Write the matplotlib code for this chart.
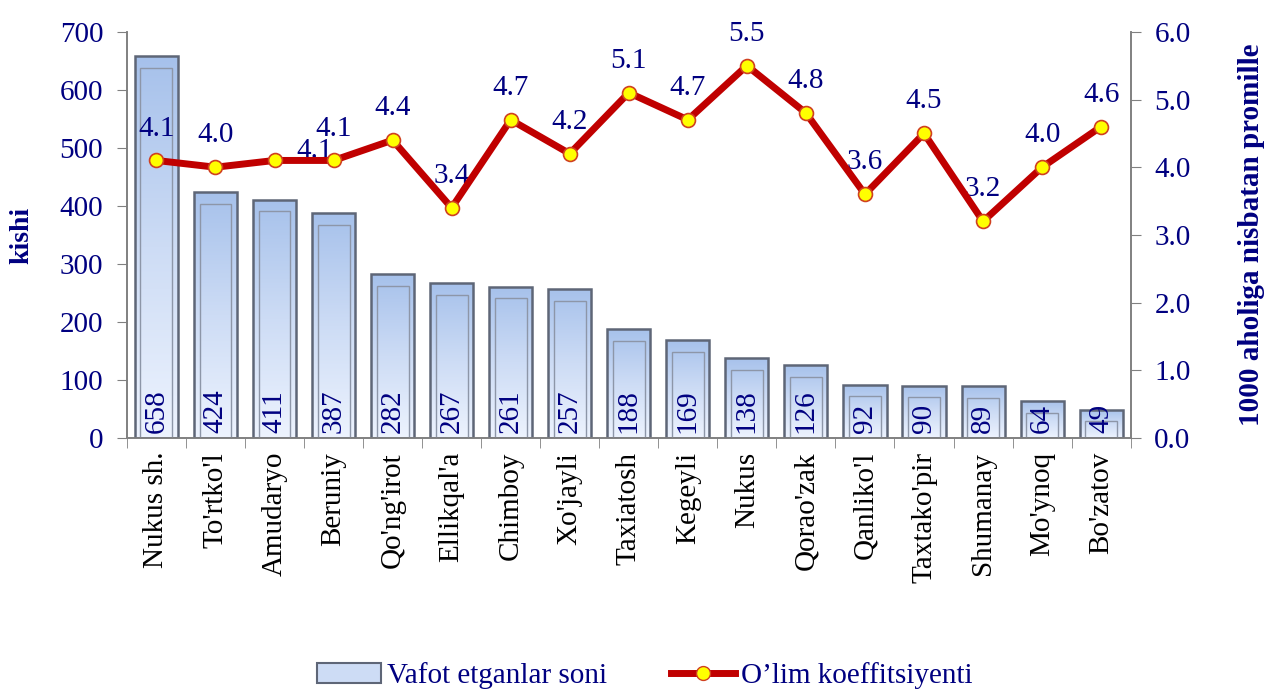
import numpy as np
import matplotlib
matplotlib.use("Agg")
import matplotlib.pyplot as plt
from matplotlib.patches import Rectangle
from matplotlib.lines import Line2D
from matplotlib.colors import LinearSegmentedColormap

# ma'lumotlar
districts = ["Nukus sh.", "To'rtko'l", "Amudaryo", "Beruniy", "Qo'ng'irot",
             "Ellikqal'a", "Chimboy", "Xo'jayli", "Taxiatosh", "Kegeyli", "Nukus",
             "Qorao'zak", "Qanliko'l", "Taxtako'pir", "Shumanay", "Mo'ynoq", "Bo'zatov"]
deaths = [658, 424, 411, 387, 282, 267, 261, 257, 188, 169, 138, 126, 92, 90, 89, 64, 49]
rate = [4.1, 4.0, 4.1, 4.1, 4.4, 3.4, 4.7, 4.2, 5.1, 4.7, 5.5, 4.8, 3.6, 4.5, 3.2, 4.0, 4.6]

navy = "#000080"
plt.rcParams["font.family"] = ["Liberation Serif", "DejaVu Serif"]

fig = plt.figure(figsize=(12.69, 6.91), dpi=100)
ax1 = fig.add_axes([0.1, 0.366, 0.791, 0.588])
ax2 = ax1.twinx()

x = np.arange(len(districts))
w = 0.73
cmap = LinearSegmentedColormap.from_list("bar", ["#edf3fe", "#cddcf5", "#a6c1eb"])
grad = np.linspace(0, 1, 256).reshape(-1, 1)

for xi, v in zip(x, deaths):
    rect = Rectangle((xi - w / 2, 0), w, v, facecolor="none", edgecolor="#5e6677", lw=1.8, zorder=3)
    ax1.add_patch(rect)
    im = ax1.imshow(grad, extent=(xi - w / 2, xi + w / 2, 0, v), origin="lower",
                    cmap=cmap, aspect="auto", zorder=2)
    im.set_clip_path(rect)
    inset = w * 0.13
    ax1.add_patch(Rectangle((xi - w / 2 + inset, 0), w - 2 * inset, max(v - 20, 0),
                            facecolor="none", edgecolor="#8d96a8", lw=1.0, zorder=3))
    ax1.text(xi, 8, str(v), rotation=90, ha="center", va="bottom", fontsize=21,
             color=navy, zorder=4)

ax1.set_xlim(-0.5, len(districts) - 0.5)
ax1.set_ylim(0, 700)
ax1.set_yticks(range(0, 701, 100))
ax1.set_xticks(x)
ax1.set_xticklabels(districts, rotation=90, fontsize=21, color="black")
ax1.set_xticks(np.arange(-0.5, len(districts)), minor=True)
ax1.tick_params(axis="x", which="major", length=0, pad=10)
ax1.tick_params(axis="x", which="minor", length=7, color="#808080")
ax1.tick_params(axis="y", labelsize=21, labelcolor=navy, color="#808080", length=7, pad=10)
ax1.set_ylabel("kishi", fontsize=20, fontweight="bold", color=navy, labelpad=18)

ax2.plot(x, rate, color="#c00000", lw=5, marker="o", markersize=10,
         markerfacecolor="#ffff00", markeredgecolor="#d04020", markeredgewidth=1.2, zorder=5)
offsets = [(0, 23)] * len(rate)
offsets[2] = (29, 7)
for xi, r, off in zip(x, rate, offsets):
    ax2.annotate(f"{r:.1f}", (xi, r), xytext=off, textcoords="offset points",
                 ha="center", va="center", fontsize=21, color=navy)
ax2.set_ylim(0, 6)
ax2.set_yticks(np.arange(0, 6.01, 1.0))
ax2.set_yticklabels([f"{t:.1f}" for t in np.arange(0, 6.01, 1.0)])
ax2.tick_params(axis="y", labelsize=21, labelcolor=navy, color="#808080", length=7, pad=10)
ax2.set_ylabel("1000 aholiga nisbatan promille", fontsize=21, fontweight="bold",
               color=navy, labelpad=34)

for ax in (ax1, ax2):
    ax.spines["top"].set_visible(False)
    for s in ("left", "right", "bottom"):
        ax.spines[s].set_color("#808080")
        ax.spines[s].set_linewidth(1.2)

handles = [Rectangle((0, 0), 1, 1, facecolor="#cddcf5", edgecolor="#5e6677", lw=1.5),
           Line2D([], [], color="#c00000", lw=5, marker="o", markersize=10,
                  markerfacecolor="#ffff00", markeredgecolor="#d04020")]
fig.legend(handles, ["Vafot etganlar soni", "O’lim koeffitsiyenti"], loc="center",
           bbox_to_anchor=(0.508, 0.022), ncol=2, frameon=False, fontsize=21,
           labelcolor=navy, columnspacing=2.2, handlelength=2.2, handletextpad=0.2)

fig.savefig("out.png", dpi=100)
